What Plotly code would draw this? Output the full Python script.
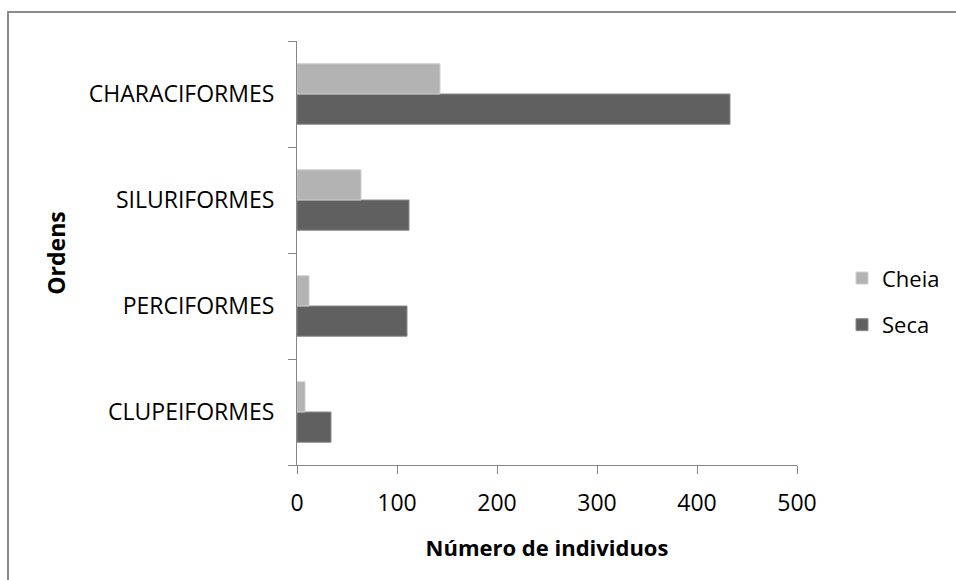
import plotly.graph_objects as go

# Orders of fish, bottom to top on the category axis
ordens = ["CLUPEIFORMES", "PERCIFORMES", "SILURIFORMES", "CHARACIFORMES"]
cheia = [8, 12, 64, 143]
seca = [34, 110, 112, 433]
x_ticks = [0, 100, 200, 300, 400, 500]

FONT = "Open Sans"

fig = go.Figure()
fig.add_trace(go.Bar(
    y=ordens, x=seca, name="Seca", orientation="h",
    legendgroup="seca", legendrank=2,
    marker=dict(color="#606060", line=dict(color="#8a8a8a", width=1)),
))
fig.add_trace(go.Bar(
    y=ordens, x=cheia, name="Cheia", orientation="h",
    legendgroup="cheia", legendrank=1,
    marker=dict(color="#b3b3b3", line=dict(color="#cfcfcf", width=1)),
))

fig.update_layout(
    width=956, height=580,
    margin=dict(l=297, r=159, t=41, b=115, autoexpand=False),
    paper_bgcolor="white", plot_bgcolor="white",
    barmode="group", bargap=0.43, bargroupgap=0,
    font=dict(family=FONT, size=23, color="#000000"),
    showlegend=True,
    legend=dict(
        x=1.09, xanchor="left", xref="paper",
        y=0.385, yanchor="middle",
        traceorder="grouped",
        font=dict(family=FONT, size=22),
        itemwidth=30, tracegroupgap=15,
        bgcolor="rgba(0,0,0,0)",
    ),
    shapes=[dict(
        type="rect", xref="paper", yref="paper",
        x0=-297 / 500 + 8 / 500, x1=1.5,
        y0=-1, y1=1 + 29 / 424,
        line=dict(color="#8c8c8c", width=2), fillcolor="rgba(0,0,0,0)",
        layer="below",
    )],
)

fig.update_xaxes(
    range=[0, 500], tickvals=x_ticks, ticktext=[str(v) for v in x_ticks],
    showgrid=False, zeroline=False, automargin=False,
    showline=True, linecolor="#868686", linewidth=1,
    ticks="outside", ticklen=8, tickcolor="#868686",
    tickfont=dict(family=FONT, size=23),
    ticklabelstandoff=9,
    title=dict(text="<b>Número de individuos</b>", font=dict(family=FONT, size=22), standoff=24),
)
fig.update_yaxes(
    categoryorder="array", categoryarray=ordens,
    showgrid=False, zeroline=False, automargin=False,
    showline=True, linecolor="#868686", linewidth=1,
    ticks="outside", ticklen=8, tickcolor="#868686",
    tickson="boundaries",
    tickfont=dict(family=FONT, size=23),
    ticklabelstandoff=17,
    title=dict(text="<b>Ordens</b>", font=dict(family=FONT, size=23), standoff=16),
)

fig.write_html("out.html")
